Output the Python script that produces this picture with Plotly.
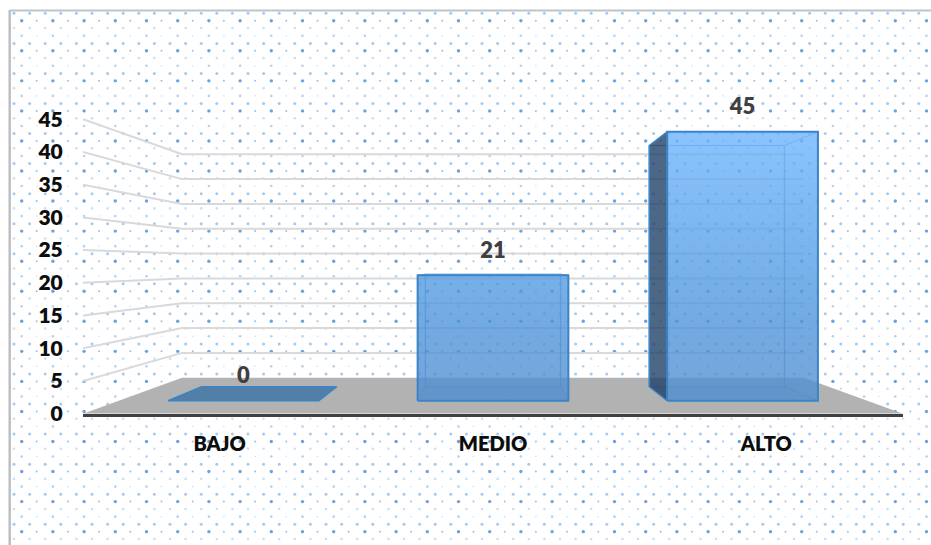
import numpy as np
import plotly.graph_objects as go

# ---- data ----
categories = ["BAJO", "MEDIO", "ALTO"]
values = [0, 21, 45]
y_ticks = [0, 5, 10, 15, 20, 25, 30, 35, 40, 45]

# ---- canvas / perspective styling ----
W, H = 931, 545
FIG_H = 557                                         # layout height that renders as the 545 px window
AX_L, AX_R, AX_B, AX_T = 83, 903, 413, 119          # pixels of the front plane
Y_MAX = y_ticks[-1]
PX_PER_UNIT = (AX_B - AX_T) / Y_MAX
Y_TOP = AX_B / PX_PER_UNIT
VX, VY = 1.0, (AX_B - 264) / PX_PER_UNIT            # vanishing point
S_WALL, S_FRONT, S_BACK = 0.7585, 0.913, 0.819      # depth scale factors
HALF = 0.302                                        # half bar width
X0, X1 = -0.5, 2.5
FONT = "Lato"


def proj(x, v, s):
    return VX + s * (x - VX), VY + s * (v - VY)


def poly(points, fill=None, line=None, width=1, grad=None):
    xs = [p[0] for p in points] + [points[0][0]]
    ys = [p[1] for p in points] + [points[0][1]]
    tr = dict(x=xs, y=ys, xaxis="x2", yaxis="y2", mode="lines", fill="toself",
              hoverinfo="skip", showlegend=False,
              line=dict(color=line or "rgba(0,0,0,0)", width=width))
    if grad:
        tr["fillgradient"] = dict(type="vertical", colorscale=grad, start=0, stop=Y_MAX)
        tr["fillcolor"] = "rgba(0,0,0,0)"
    else:
        tr["fillcolor"] = fill
    return go.Scatter(**tr)


fig = go.Figure()

# ---- dotted background texture (pixel axes) ----
xa = np.arange(14, W + 1, 15.6)
xb = np.arange(21.7, W + 1, 31.2)
xc = np.arange(36.7, W + 1, 31.2)
ys = np.arange(13.3, H + 8, 30)
tex = [
    (xa, ys, 3.0, "#a4caee"), (xb, ys + 7.4, 3.4, "#66a3e0"), (xc, ys + 7.4, 2.0, "#98c1ea"),
    (xa, ys + 14.7, 2.6, "#cbe0f4"), (xb, ys + 22.4, 2.6, "#b4d2f0"), (xc, ys + 22.4, 1.6, "#cbe0f4"),
]
for tx, ty, size, color in tex:
    gx, gy = np.meshgrid(tx, ty)
    fig.add_trace(go.Scatter(x=gx.ravel(), y=gy.ravel(), mode="markers", hoverinfo="skip",
                             showlegend=False,
                             marker=dict(size=size, color=color, line=dict(width=0))))

# ---- floor ----
fig.add_trace(poly([proj(X0, 0, 1), proj(X0, 0, S_WALL), proj(X1, 0, S_WALL), proj(X1, 0, 1)],
                   fill="#b2b2b2"))

# ---- gridlines: side wall + back wall ----
gx, gy = [], []
for t in y_ticks[1:]:
    for p in (proj(X0, t, 1), proj(X0, t, S_WALL), proj(X1, t, S_WALL)):
        gx.append(p[0]); gy.append(p[1])
    gx.append(None); gy.append(None)
fig.add_trace(go.Scatter(x=gx, y=gy, xaxis="x2", yaxis="y2", mode="lines", hoverinfo="skip",
                         showlegend=False, line=dict(color="#d9d9d9", width=2)))

# ---- bars ----
EDGE = "#3b84c6"
EDGE_SOFT = "rgba(70,140,210,0.40)"
FRONT_GRAD = [[0, "rgba(82,140,205,0.78)"], [0.35, "rgba(78,148,218,0.78)"], [1, "rgba(110,182,255,0.78)"]]
for i, v in enumerate(values):
    l, r = i - HALF, i + HALF
    fbl, fbr, ftl, ftr = proj(l, 0, S_FRONT), proj(r, 0, S_FRONT), proj(l, v, S_FRONT), proj(r, v, S_FRONT)
    bbl, bbr, btl, btr = proj(l, 0, S_BACK), proj(r, 0, S_BACK), proj(l, v, S_BACK), proj(r, v, S_BACK)
    if v == 0:
        fig.add_trace(poly([fbl, fbr, bbr, bbl], fill="#527fa8", line=EDGE, width=1.5))
        continue
    # back, floor, top, side walls, front
    fig.add_trace(poly([bbl, bbr, btr, btl], fill="rgba(91,160,230,0.06)", line=EDGE_SOFT, width=1.5))
    fig.add_trace(poly([fbl, fbr, bbr, bbl], fill="rgba(70,130,190,0.12)", line=EDGE_SOFT, width=1))
    fig.add_trace(poly([ftl, ftr, btr, btl], fill="rgba(120,190,255,0.08)", line=EDGE_SOFT, width=1))
    fig.add_trace(poly([fbr, ftr, btr, bbr], fill="rgba(120,190,255,0.08)", line=EDGE_SOFT, width=1))
    is_outer = bbl[0] < fbl[0]
    fig.add_trace(poly([fbl, ftl, btl, bbl],
                       fill="rgba(30,62,100,0.78)" if is_outer else "rgba(70,130,190,0.08)",
                       line=EDGE if is_outer else EDGE_SOFT, width=1.5 if is_outer else 1))
    fig.add_trace(poly([fbl, fbr, ftr, ftl], grad=FRONT_GRAD, line=EDGE, width=2))

# ---- data labels ----
LABEL_GAP = 23 / PX_PER_UNIT
lab = [proj(i, v, S_FRONT) for i, v in enumerate(values)]
fig.add_trace(go.Scatter(x=[p[0] for p in lab], y=[p[1] + LABEL_GAP for p in lab],
                         xaxis="x2", yaxis="y2", mode="text", hoverinfo="skip", showlegend=False,
                         text=[str(v) for v in values], textposition="middle center",
                         textfont=dict(family=FONT, size=22, color="#404040", weight=800)))

fig.update_layout(
    width=W, height=FIG_H, autosize=False,
    margin=dict(l=0, r=0, t=0, b=0),
    paper_bgcolor="white", plot_bgcolor="rgba(0,0,0,0)",
    showlegend=False,
    xaxis=dict(domain=[0, 1], range=[0, W], visible=False, fixedrange=True),
    yaxis=dict(domain=[0, 1], range=[H, 0], visible=False, fixedrange=True),
    xaxis2=dict(domain=[AX_L / W, AX_R / W], range=[X0, X1], anchor="y2",
                tickmode="array", tickvals=list(range(len(categories))), ticktext=categories,
                showgrid=False, zeroline=False, showline=True, linecolor="#404040", linewidth=3,
                ticks="outside", ticklen=10, tickcolor="rgba(0,0,0,0)",
                tickfont=dict(family=FONT, size=20, color="#0d0d0d", weight=800), fixedrange=True),
    yaxis2=dict(domain=[(H - AX_B) / H, 1], range=[0, Y_TOP], anchor="x2",
                tickmode="array", tickvals=y_ticks, ticktext=[str(t) for t in y_ticks],
                showgrid=False, zeroline=False, showline=False, ticks="outside", ticklen=15,
                tickcolor="rgba(0,0,0,0)",
                tickfont=dict(family=FONT, size=21, color="#0d0d0d", weight=800), fixedrange=True),
    shapes=[
        dict(type="rect", xref="paper", yref="paper", x0=0, x1=1, y0=1 - 10 / H, y1=1,
             fillcolor="white", line=dict(width=0), layer="above"),
        dict(type="rect", xref="paper", yref="paper", x0=0, x1=10 / W, y0=0, y1=1,
             fillcolor="white", line=dict(width=0), layer="above"),
        dict(type="line", xref="paper", yref="paper", x0=10 / W, x1=1, y0=1 - 10.5 / H, y1=1 - 10.5 / H,
             line=dict(color="#bfc3c7", width=2), layer="above"),
        dict(type="line", xref="paper", yref="paper", x0=9.7 / W, x1=9.7 / W, y0=0, y1=1 - 10 / H,
             line=dict(color="#bfbfbf", width=2.5), layer="above"),
    ],
)

fig.write_html("out.html", config={"displayModeBar": False},
               post_script="document.documentElement.style.overflow='hidden';document.body.style.margin='0';document.body.style.padding='0';")
